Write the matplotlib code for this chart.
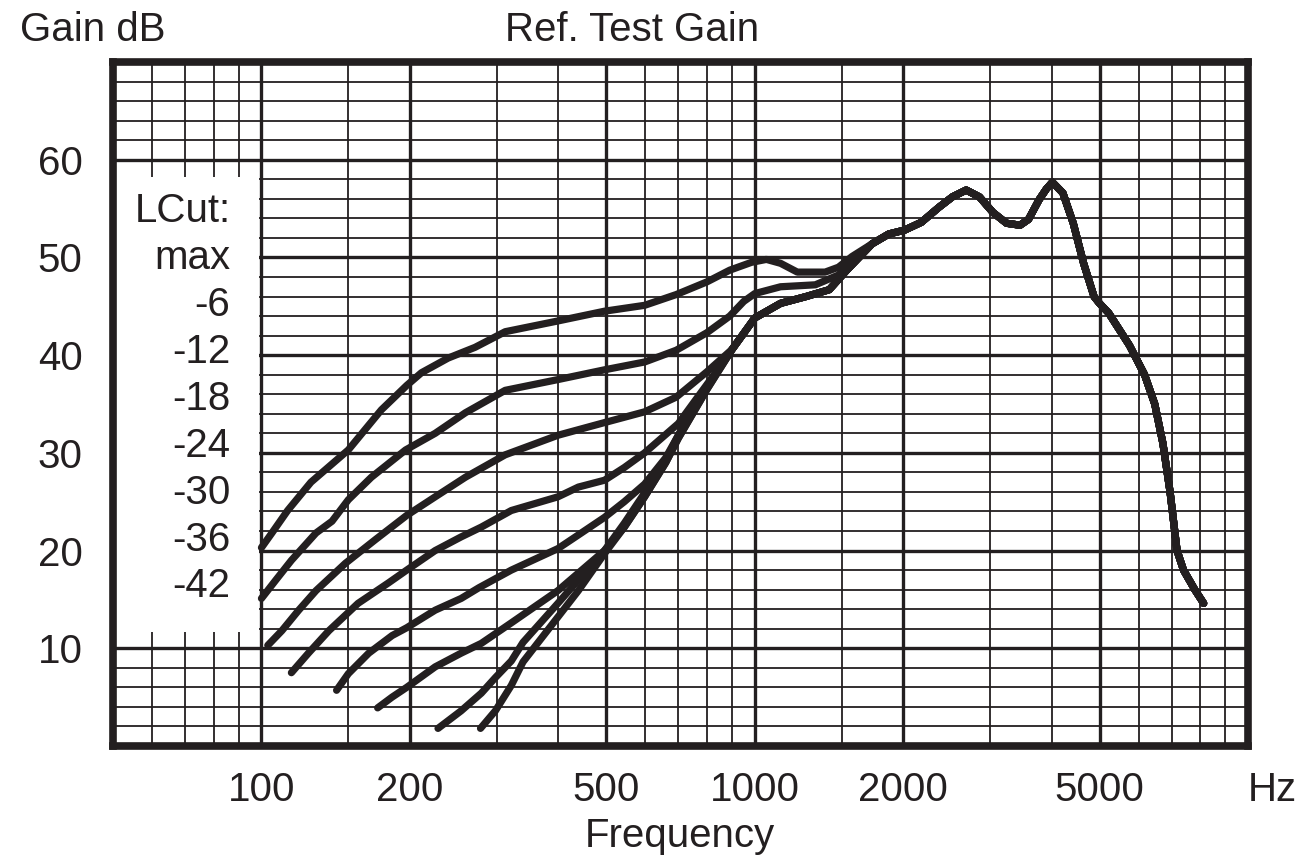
import numpy as np
import matplotlib as mpl
mpl.use('Agg')
import matplotlib.pyplot as plt
from matplotlib.patches import Rectangle

plt.rcParams['font.family'] = ['Liberation Sans', 'DejaVu Sans']

INK = '#231f20'

# values (Hz, dB)
max_f = [100, 105, 113, 126, 150, 175, 197, 211, 239, 271, 312, 399, 496, 598, 693, 800, 890, 985, 1056, 1128, 1220, 1389, 1478, 1575]
max_g = [20.3, 21.8, 24.1, 27.0, 30.3, 34.4, 36.9, 38.2, 39.7, 40.8, 42.4, 43.5, 44.5, 45.1, 46.2, 47.5, 48.7, 49.5, 49.8, 49.4, 48.5, 48.5, 49.0, 50.1]

m6_f = [100, 107, 115, 129, 139, 150, 167, 196, 225, 259, 312, 399, 496, 598, 693, 800, 890, 950, 1000, 1128, 1327, 1478, 1575]
m6_g = [15.1, 17.0, 19.0, 21.8, 23.0, 25.2, 27.5, 30.3, 32.0, 34.1, 36.4, 37.5, 38.5, 39.3, 40.5, 42.3, 44.0, 45.5, 46.3, 47.0, 47.2, 48.2, 49.7]

m12_f = [103, 110, 119, 129, 148, 170, 197, 225, 259, 312, 399, 496, 598, 693, 800]
m12_g = [10.3, 11.8, 13.9, 15.9, 18.7, 21.1, 23.6, 25.5, 27.5, 29.8, 31.8, 33.1, 34.2, 35.7, 38.3]

m18_f = [115, 124.5, 137, 157, 181, 197, 225, 254, 279, 321, 399, 439, 496, 544, 598, 700, 800]
m18_g = [7.5, 9.5, 11.8, 14.6, 16.7, 18.0, 20.0, 21.4, 22.4, 24.1, 25.5, 26.5, 27.2, 28.5, 30.0, 33.0, 37.0]

m24_f = [142, 150, 165, 184, 197, 225, 254, 276, 321, 399, 439, 496, 544, 598, 660, 700, 800]
m24_g = [5.7, 7.4, 9.5, 11.3, 12.1, 13.9, 15.1, 16.2, 18.0, 20.2, 21.6, 23.4, 25.0, 26.8, 29.5, 31.8, 36.8]

m30_f = [172, 184, 197, 225, 254, 279, 321, 399, 439, 496, 544, 598, 660, 700, 800]
m30_g = [3.9, 5.0, 6.0, 8.1, 9.5, 10.5, 12.6, 15.9, 17.7, 20.0, 22.4, 25.5, 29.0, 31.5, 36.5]

m36_f = [228, 254, 279, 298, 321, 339, 399, 439, 496, 544, 598, 660, 700, 800]
m36_g = [1.8, 3.6, 5.4, 7.0, 8.7, 10.6, 14.6, 17.0, 20.0, 22.8, 25.9, 29.3, 31.8, 36.8]

m42_f = [278, 298, 321, 339, 399, 439, 496, 544, 598, 660, 700, 800]
m42_g = [1.8, 3.6, 6.2, 8.6, 13.2, 15.9, 19.7, 22.4, 25.5, 29.0, 31.5, 36.5]

# lower settings run together above ~900 Hz
bundle_f = [900, 1000, 1128, 1271, 1416, 1537]
bundle_g = [40.6, 43.8, 45.3, 46.0, 46.7, 48.7]

# all settings share the top end
common_f = [1730, 1870, 2013, 2177, 2358, 2516, 2683, 2854, 3041, 3240, 3450, 3590, 3770, 3900, 4012,
            4214, 4423, 4642, 4873, 5000, 5220, 5750, 6170, 6470, 6720, 6950, 7180, 7400, 7800, 8130]
common_g = [51.4, 52.4, 52.8, 53.6, 55.1, 56.2, 56.9, 56.2, 54.6, 53.5, 53.3, 53.9, 55.9, 57.0, 57.7,
            56.6, 53.5, 49.4, 46.0, 45.3, 44.3, 41.0, 38.0, 35.0, 31.0, 26.0, 20.0, 18.0, 16.0, 14.6]

lcut_labels = ['LCut:', 'max', '-6', '-12', '-18', '-24', '-30', '-36', '-42']
xtick_vals = [100, 200, 500, 1000, 2000, 5000]
xminor_vals = [60, 70, 80, 90, 150, 300, 400, 600, 700, 800, 900, 1500, 3000, 4000, 6000, 7000, 8000, 9000]

fig = plt.figure(figsize=(13.03, 8.64), dpi=100)
ax = fig.add_axes([0.0867, 0.1366, 0.8711, 0.7916])
ax.set_xscale('log')
ax.set_xlim(50, 10000)
ax.set_ylim(0, 70)

ax.set_xticks(xtick_vals)
ax.set_xticklabels([str(v) for v in xtick_vals])
ax.set_xticks(xminor_vals, minor=True)
ax.set_xticklabels([], minor=True)
ax.set_yticks(range(10, 70, 10))
ax.set_yticks(range(2, 70, 2), minor=True)
ax.tick_params(which='both', length=0)
ax.tick_params(axis='y', pad=22, labelsize=29, colors=INK)
ax.tick_params(axis='x', pad=18, labelsize=29, colors=INK)

ax.set_axisbelow(True)
ax.grid(which='major', color=INK, lw=2.4)
ax.grid(which='minor', color=INK, lw=1.3)
for s in ax.spines.values():
    s.set_linewidth(5.5)
    s.set_color(INK)

# white legend box over the grid
ax.add_patch(Rectangle((50, 11.7), 99 - 50, 58.2 - 11.7, facecolor='white', edgecolor='none', zorder=1))
for i, lab in enumerate(lcut_labels):
    ax.text(86.5, 53.6 - i * 4.8, lab, ha='right', va='baseline', fontsize=29, color=INK, zorder=3)

curves = [
    (max_f + common_f, max_g + common_g),
    (m6_f + common_f, m6_g + common_g),
    (m12_f + bundle_f + common_f, m12_g + bundle_g + common_g),
    (m18_f + bundle_f + common_f, m18_g + bundle_g + common_g),
    (m24_f + bundle_f + common_f, m24_g + bundle_g + common_g),
    (m30_f + bundle_f + common_f, m30_g + bundle_g + common_g),
    (m36_f + bundle_f + common_f, m36_g + bundle_g + common_g),
    (m42_f + bundle_f + common_f, m42_g + bundle_g + common_g),
]
for f, g in curves:
    ax.plot(f, g, color=INK, lw=5.2, solid_capstyle='round', solid_joinstyle='round', zorder=4)

fig.text(20 / 1303, 1 - 30 / 864, 'Gain dB', ha='left', va='center', fontsize=29, color=INK)
fig.text(632 / 1303, 1 - 30 / 864, 'Ref. Test Gain', ha='center', va='center', fontsize=29, color=INK)
fig.text(1272 / 1303, 1 - 790 / 864, 'Hz', ha='center', va='center', fontsize=29, color=INK)
fig.text(680 / 1303, 1 - 836 / 864, 'Frequency', ha='center', va='center', fontsize=29, color=INK)

plt.savefig('out.png', dpi=100)
